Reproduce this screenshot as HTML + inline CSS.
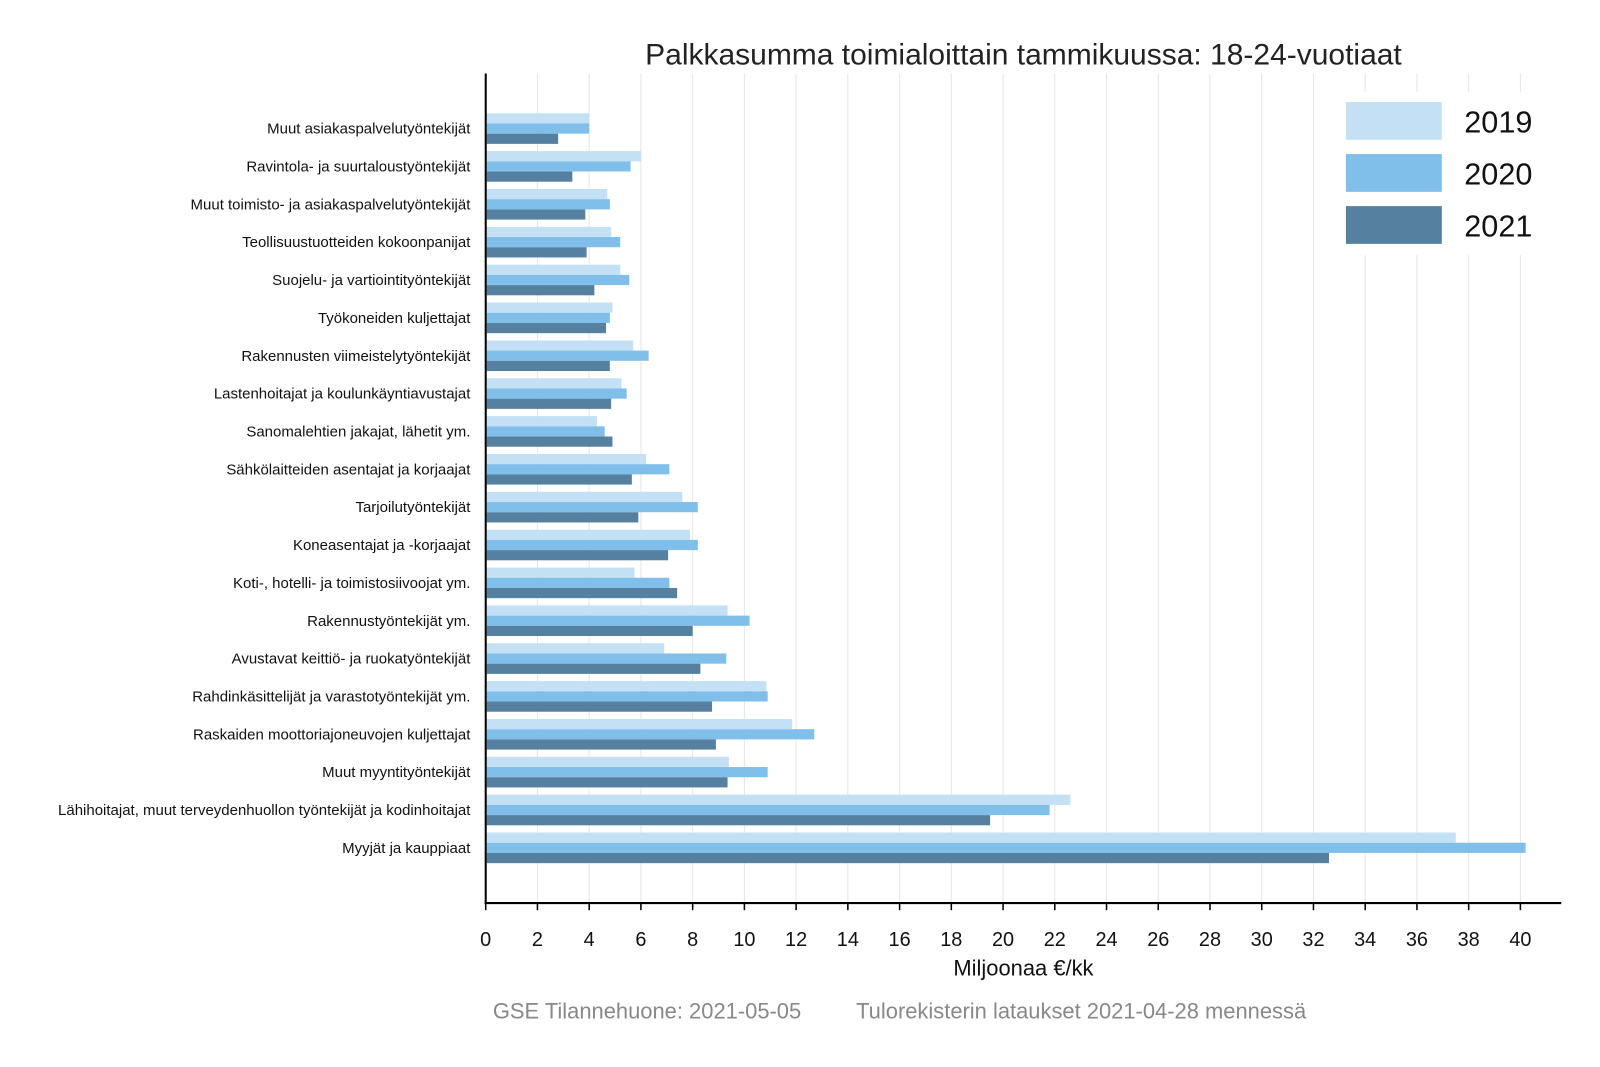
<!DOCTYPE html>
<html><head><meta charset="utf-8"><style>body{margin:0;background:#fff}svg{display:block}</style></head>
<body>
<svg id="s" width="1600" height="1067" xmlns="http://www.w3.org/2000/svg" font-family="Liberation Sans, Arial, sans-serif">
<rect width="1600" height="1067" fill="#fff"/>
<g transform="scale(1.0204)">
<g id="grid"></g>
<g id="bars"></g>
<rect x="1305" y="90" width="215" height="160" fill="#fff"/>
<rect x="1319" y="100" width="94" height="37" fill="#c3e0f4"/>
<rect x="1319" y="151" width="94" height="37" fill="#80bfea"/>
<rect x="1319" y="202" width="94" height="37" fill="#5680a0"/>
<text x="1435" y="130" font-size="30" fill="#111">2019</text>
<text x="1435" y="181" font-size="30" fill="#111">2020</text>
<text x="1435" y="232" font-size="30" fill="#111">2021</text>
<line x1="476" y1="72" x2="476" y2="886" stroke="#000" stroke-width="2"/>
<line x1="475" y1="885" x2="1530" y2="885" stroke="#000" stroke-width="2"/>
<g id="ticks"></g>
<g id="labels" font-size="14.7" text-anchor="end" fill="#111"></g>
<text x="1003" y="63" font-size="29.4" text-anchor="middle" fill="#222">Palkkasumma toimialoittain tammikuussa: 18-24-vuotiaat</text>
<text x="1003" y="956" font-size="21.5" text-anchor="middle" fill="#111">Miljoonaa €/kk</text>
<text x="483" y="998" font-size="21.5" fill="#888">GSE Tilannehuone: 2021-05-05</text>
<text x="839" y="998" font-size="21.5" fill="#888">Tulorekisterin lataukset 2021-04-28 mennessä</text>
</g>
</svg>
<script>
const NS="http://www.w3.org/2000/svg";
function el(p,t,a,txt){const e=document.createElementNS(NS,t);for(const k in a)e.setAttribute(k,a[k]);if(txt!==undefined)e.textContent=txt;document.getElementById(p).appendChild(e);}
const X=v=>476+v*25.35;
for(let v=0;v<=40;v+=2){const x=X(v);
 if(v>0)el("grid","line",{x1:x,y1:72,x2:x,y2:885,stroke:"#e6e6e6","stroke-width":1});
 el("ticks","line",{x1:x,y1:885,x2:x,y2:892,stroke:"#000","stroke-width":1.5});
 el("ticks","text",{x:x,y:927,"font-size":19.5,"text-anchor":"middle",fill:"#111"},v);}
const d=[
["Muut asiakaspalvelutyöntekijät",4.0,4.0,2.8],
["Ravintola- ja suurtaloustyöntekijät",6.0,5.6,3.35],
["Muut toimisto- ja asiakaspalvelutyöntekijät",4.7,4.8,3.85],
["Teollisuustuotteiden kokoonpanijat",4.85,5.2,3.9],
["Suojelu- ja vartiointityöntekijät",5.2,5.55,4.2],
["Työkoneiden kuljettajat",4.9,4.8,4.65],
["Rakennusten viimeistelytyöntekijät",5.7,6.3,4.8],
["Lastenhoitajat ja koulunkäyntiavustajat",5.25,5.45,4.85],
["Sanomalehtien jakajat, lähetit ym.",4.3,4.6,4.9],
["Sähkölaitteiden asentajat ja korjaajat",6.2,7.1,5.65],
["Tarjoilutyöntekijät",7.6,8.2,5.9],
["Koneasentajat ja -korjaajat",7.9,8.2,7.05],
["Koti-, hotelli- ja toimistosiivoojat ym.",5.75,7.1,7.4],
["Rakennustyöntekijät ym.",9.35,10.2,8.0],
["Avustavat keittiö- ja ruokatyöntekijät",6.9,9.3,8.3],
["Rahdinkäsittelijät ja varastotyöntekijät ym.",10.85,10.9,8.75],
["Raskaiden moottoriajoneuvojen kuljettajat",11.85,12.7,8.9],
["Muut myyntityöntekijät",9.4,10.9,9.35],
["Lähihoitajat, muut terveydenhuollon työntekijät ja kodinhoitajat",22.6,21.8,19.5],
["Myyjät ja kauppiaat",37.5,40.2,32.6]];
const cols=["#c3e0f4","#80bfea","#5680a0"];
d.forEach((r,i)=>{const c=126+i*37.1;
 for(let j=0;j<3;j++)el("bars","rect",{x:477,y:c-15+j*10,width:X(r[j+1])-477,height:10,fill:cols[j]});
 el("labels","text",{x:461,y:c+5},r[0]);});
</script>
</body></html>
